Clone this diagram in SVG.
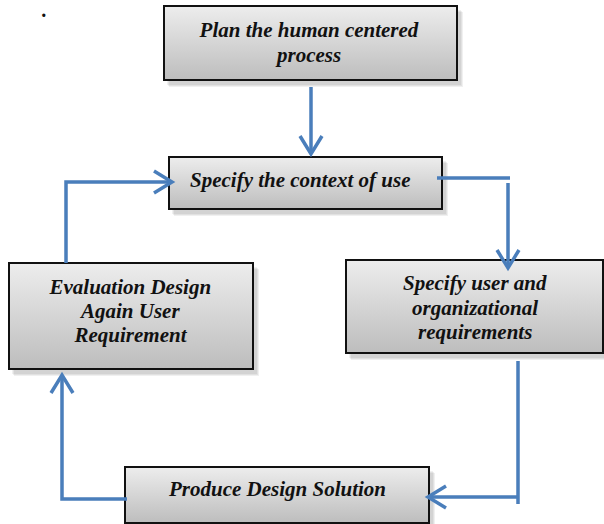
<svg xmlns="http://www.w3.org/2000/svg" width="604" height="524" viewBox="0 0 604 524">
  <defs>
    <linearGradient id="boxFill" x1="0" y1="0" x2="0" y2="1">
      <stop offset="0" stop-color="#ededed"/>
      <stop offset="1" stop-color="#bdbdbd"/>
    </linearGradient>
    <marker id="head" markerUnits="userSpaceOnUse" markerWidth="30" markerHeight="30" viewBox="-22 -15 26 30" refX="0" refY="0" orient="auto">
      <path d="M-18,-11 L0,0 L-18,11" fill="none" stroke="#4a7ebb" stroke-width="3.5"/>
    </marker>
  </defs>

  <rect width="604" height="524" fill="#fff"/>

  <text x="42" y="17" font-family="Liberation Serif" font-weight="bold" font-style="italic" font-size="20" fill="#111">.</text>

  <g id="plan">
    <g fill="#000" fill-opacity="0.06">
      <rect x="167" y="10" width="294" height="75"/>
      <rect x="168" y="11" width="294" height="75"/>
      <rect x="169" y="12" width="294" height="75"/>
    </g>
    <rect x="164" y="6" width="293" height="74" fill="url(#boxFill)" stroke="#111" stroke-width="2"/>
    <text x="199.6" y="37" font-family="Liberation Serif" font-weight="bold" font-style="italic" font-size="21" fill="#111">Plan the human centered</text>
    <text x="277" y="62" font-family="Liberation Serif" font-weight="bold" font-style="italic" font-size="21" fill="#111">process</text>
  </g>

  <g id="context">
    <g fill="#000" fill-opacity="0.06">
      <rect x="172" y="161" width="274" height="53"/>
      <rect x="173" y="162" width="274" height="53"/>
      <rect x="174" y="163" width="274" height="53"/>
    </g>
    <rect x="169" y="157" width="273" height="52" fill="url(#boxFill)" stroke="#111" stroke-width="2"/>
    <text x="190" y="187" font-family="Liberation Serif" font-weight="bold" font-style="italic" font-size="21" fill="#111">Specify the context of use</text>
  </g>

  <g id="requirements">
    <g fill="#000" fill-opacity="0.06">
      <rect x="349" y="264" width="258" height="94"/>
      <rect x="350" y="265" width="258" height="94"/>
      <rect x="351" y="266" width="258" height="94"/>
    </g>
    <rect x="346" y="260" width="257" height="93" fill="url(#boxFill)" stroke="#111" stroke-width="2"/>
    <text x="403" y="290" font-family="Liberation Serif" font-weight="bold" font-style="italic" font-size="21" fill="#111">Specify user and</text>
    <text x="412" y="315" font-family="Liberation Serif" font-weight="bold" font-style="italic" font-size="21" fill="#111">organizational</text>
    <text x="418" y="339" font-family="Liberation Serif" font-weight="bold" font-style="italic" font-size="21" fill="#111">requirements</text>
  </g>

  <g id="evaluation">
    <g fill="#000" fill-opacity="0.06">
      <rect x="12" y="267" width="245" height="107"/>
      <rect x="13" y="268" width="245" height="107"/>
      <rect x="14" y="269" width="245" height="107"/>
    </g>
    <rect x="9" y="263" width="244" height="106" fill="url(#boxFill)" stroke="#111" stroke-width="2"/>
    <text x="49.5" y="294" font-family="Liberation Serif" font-weight="bold" font-style="italic" font-size="21" fill="#111">Evaluation Design</text>
    <text x="81" y="318" font-family="Liberation Serif" font-weight="bold" font-style="italic" font-size="21" fill="#111">Again User</text>
    <text x="74.5" y="342" font-family="Liberation Serif" font-weight="bold" font-style="italic" font-size="21" fill="#111">Requirement</text>
  </g>

  <g id="produce">
    <g fill="#000" fill-opacity="0.06">
      <rect x="128" y="471" width="305" height="57"/>
      <rect x="129" y="472" width="305" height="57"/>
      <rect x="130" y="473" width="305" height="57"/>
    </g>
    <rect x="125" y="467" width="304" height="56" fill="url(#boxFill)" stroke="#111" stroke-width="2"/>
    <text x="169" y="496" font-family="Liberation Serif" font-weight="bold" font-style="italic" font-size="21" fill="#111">Produce Design Solution</text>
  </g>

  <g id="connectors" fill="none" stroke="#4a7ebb" stroke-width="3.5">
    <path d="M311,87 V154" marker-end="url(#head)"/>
    <path d="M437,178 H510 M508,183 V268" marker-end="url(#head)"/>
    <path d="M518,361 V504 M518,497 H428" marker-end="url(#head)"/>
    <path d="M127,499 H62 V375" marker-end="url(#head)"/>
    <path d="M66,263 V182 H172" marker-end="url(#head)"/>
  </g>
</svg>
